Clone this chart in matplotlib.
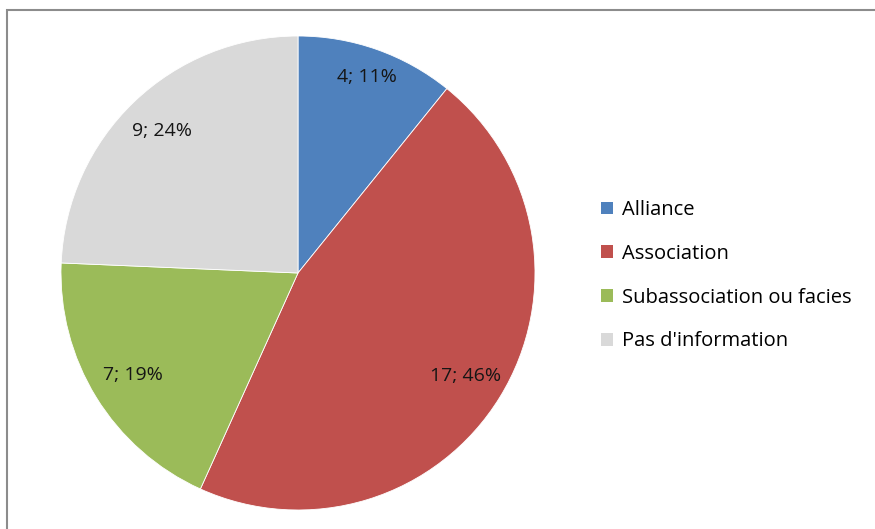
import numpy as np
import matplotlib.pyplot as plt
from matplotlib.patches import Rectangle, Patch

categories = ["Alliance", "Association", "Subassociation ou facies", "Pas d'information"]
counts = [4, 17, 7, 9]
colors = ["#4F81BD", "#C0504D", "#9BBB59", "#D9D9D9"]
label_radius = [0.875, 0.83, 0.82, 0.83]

plt.rcParams['font.family'] = ['Open Sans', 'DejaVu Sans']

fig = plt.figure(figsize=(8.75, 5.29), dpi=100)
W, H = 875, 529

# outer chart border
fig.patches.append(Rectangle((7 / W, -0.1), 1.2, 1 - 10 / H + 0.1, transform=fig.transFigure,
                             fill=False, edgecolor="#8C8C8C", linewidth=1.5))

cx, cy, r = 298, 273, 237
ax = fig.add_axes([(cx - r) / W, (H - cy - r) / H, 2 * r / W, 2 * r / H])
wedges, _ = ax.pie(counts, colors=colors, startangle=90, counterclock=False,
                   wedgeprops=dict(edgecolor="white", linewidth=0.6))
ax.set_aspect("equal")
ax.set_xlim(-1, 1)
ax.set_ylim(-1, 1)

total = sum(counts)
start = 90.0
for n, rad in zip(counts, label_radius):
    span = n / total * 360
    mid = np.deg2rad(start - span / 2)
    ax.text(rad * np.cos(mid), rad * np.sin(mid), f"{n}; {round(100 * n / total)}%",
            ha="center", va="center", fontsize=14, color="#151515")
    start -= span

handles = [Patch(facecolor=c, edgecolor="none") for c in colors]
fig.legend(handles, categories, loc="upper left", bbox_to_anchor=(593 / W, 1 - 192 / H),
           frameon=False, fontsize=14.5, handlelength=0.6, handleheight=0.6,
           handletextpad=0.45, labelspacing=1.18, borderaxespad=0)

fig.savefig("out.png", dpi=100)
